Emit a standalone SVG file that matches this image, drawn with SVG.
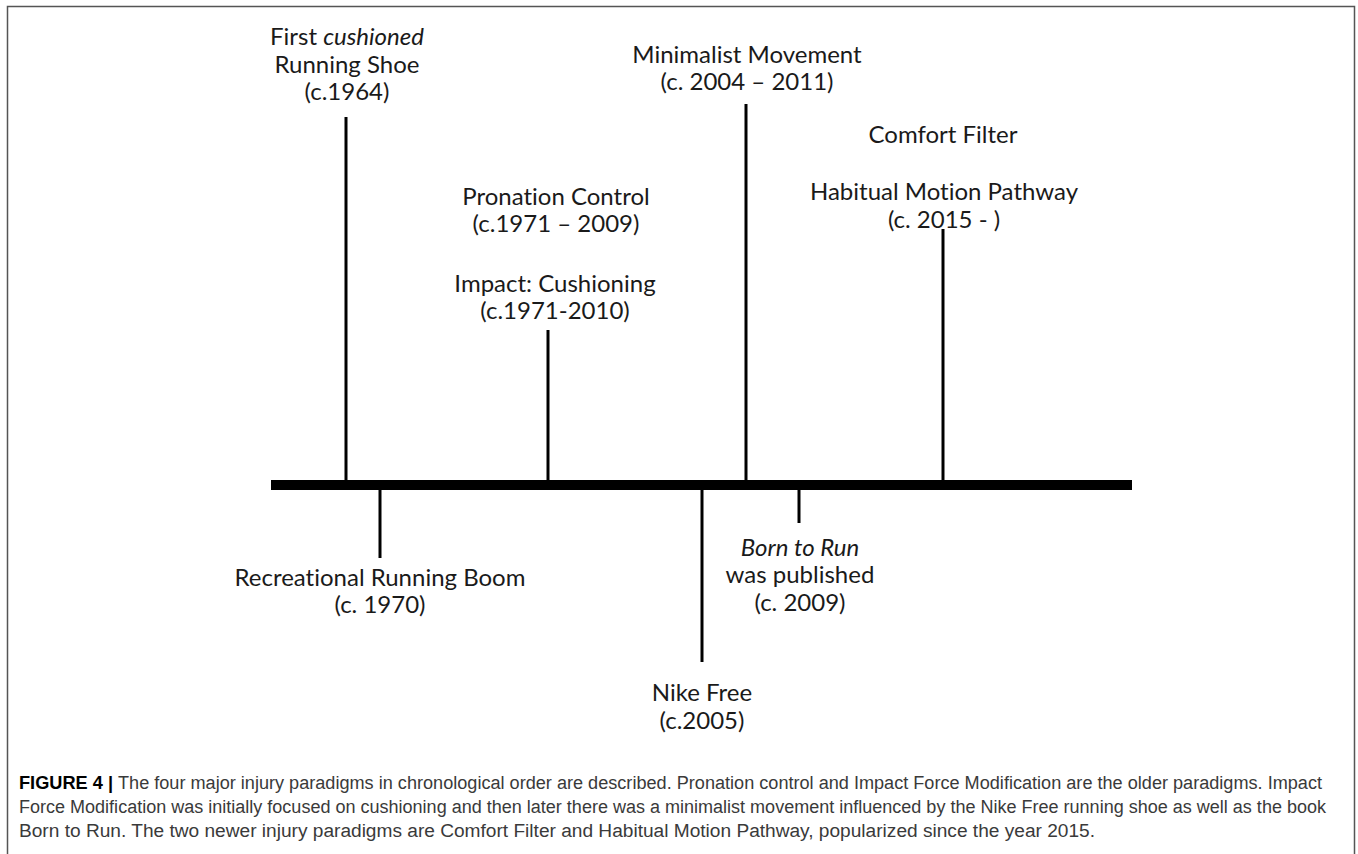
<svg xmlns="http://www.w3.org/2000/svg" width="1358" height="854" viewBox="0 0 1358 854">
<style>
.lbl{font-family:Lato,"Noto Sans","Liberation Sans",sans-serif;font-size:24px;fill:#1a1a1a;text-anchor:middle;font-variant-ligatures:none}
.it{font-style:italic}
.tick{stroke:#000;stroke-width:3;fill:none}
.cap{font-family:"Liberation Sans",Arial,sans-serif;font-size:18px;fill:#3a3a3a}
.capb{font-family:"Liberation Sans",Arial,sans-serif;font-size:18px;font-weight:bold;fill:#000}
</style>
<rect width="1358" height="854" fill="#fff"/>
<path d="M7.5 854 V6.5 H1354.5 V854" fill="none" stroke="#555" stroke-width="1.5"/>
<g id="connectors">
<rect x="271" y="480" width="861" height="10" fill="#000"/>
<line class="tick" x1="346" y1="117" x2="346" y2="480"/>
<line class="tick" x1="548" y1="330" x2="548" y2="480"/>
<line class="tick" x1="746" y1="104" x2="746" y2="480"/>
<line class="tick" x1="380" y1="490" x2="380" y2="558"/>
<line class="tick" x1="702" y1="490" x2="702" y2="662"/>
<line class="tick" x1="799" y1="490" x2="799" y2="523"/>
</g>
<g id="n1"><text class="lbl" x="347" y="45">First <tspan class="it">cushioned</tspan></text><text class="lbl" x="347" y="72.5">Running Shoe</text><text class="lbl" x="347" y="99.5">(c.1964)</text></g>
<g id="n2"><text class="lbl" x="380" y="586">Recreational Running Boom</text><text class="lbl" x="380" y="613">(c. 1970)</text></g>
<g id="n3"><text class="lbl" x="556" y="205">Pronation Control</text><text class="lbl" x="556" y="232">(c.1971 – 2009)</text></g>
<g id="n4"><text class="lbl" x="555" y="292">Impact: Cushioning</text><text class="lbl" x="555" y="319">(c.1971-2010)</text></g>
<g id="n5"><text class="lbl" x="702" y="701">Nike Free</text><text class="lbl" x="702" y="729">(c.2005)</text></g>
<g id="n6"><text class="lbl" x="747" y="63">Minimalist Movement</text><text class="lbl" x="747" y="90">(c. 2004 – 2011)</text></g>
<g id="n7"><text class="lbl it" x="800" y="556">Born to Run</text><text class="lbl" x="800" y="583">was published</text><text class="lbl" x="800" y="611">(c. 2009)</text></g>
<g id="n8"><text class="lbl" x="943" y="143">Comfort Filter</text></g>
<g id="n9"><text class="lbl" x="944" y="200">Habitual Motion Pathway</text><text class="lbl" x="944" y="228">(c. 2015 - )</text><line class="tick" x1="943" y1="229" x2="943" y2="480"/></g>
<g id="caption">
<text class="capb" x="19" y="789" textLength="94" lengthAdjust="spacingAndGlyphs">FIGURE 4 |</text>
<text class="cap" x="118" y="789" textLength="1204" lengthAdjust="spacingAndGlyphs">The four major injury paradigms in chronological order are described. Pronation control and Impact Force Modification are the older paradigms. Impact</text>
<text class="cap" x="19" y="813" textLength="1307" lengthAdjust="spacingAndGlyphs">Force Modification was initially focused on cushioning and then later there was a minimalist movement influenced by the Nike Free running shoe as well as the book</text>
<text class="cap" x="19" y="837" textLength="1076" lengthAdjust="spacingAndGlyphs">Born to Run. The two newer injury paradigms are Comfort Filter and Habitual Motion Pathway, popularized since the year 2015.</text>
</g>
</svg>
